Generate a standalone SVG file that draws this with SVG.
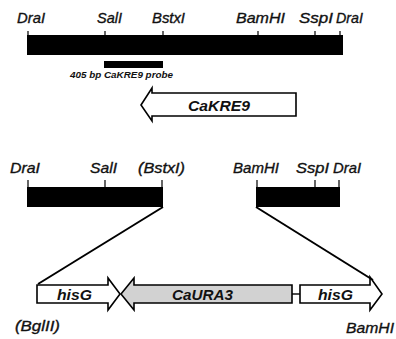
<svg xmlns="http://www.w3.org/2000/svg" width="396" height="339" viewBox="0 0 396 339">
<style>
.site{font-family:"Liberation Sans",Arial,sans-serif;font-style:italic;font-size:15px;fill:#111;stroke:#111;stroke-width:0.35}
.gene{font-family:"Liberation Sans",Arial,sans-serif;font-style:italic;font-weight:bold;font-size:15px;fill:#111}
.probe{font-family:"Liberation Sans",Arial,sans-serif;font-style:italic;font-weight:bold;font-size:9px;fill:#111}
.bar{fill:#000}
.tick{stroke:#000;stroke-width:1.2}
.box{fill:#fff;stroke:#000;stroke-width:1.6;stroke-linejoin:miter}
.grey{fill:#d2d2d2;stroke:#000;stroke-width:1.6}
.link{stroke:#000;stroke-width:2;fill:none}
</style>
<rect width="396" height="339" fill="#fff"/>

<g id="genomic-locus">
  <rect class="bar" x="27" y="35" width="316" height="20"/>
  <path class="tick" d="M28,31V35M105,31V35M163,31V35M258,31V35M315,31V35M340,31V35"/>
  <text class="site" x="17" y="23" textLength="28" lengthAdjust="spacingAndGlyphs">DraI</text>
  <text class="site" x="97" y="23" textLength="25" lengthAdjust="spacingAndGlyphs">SalI</text>
  <text class="site" x="152" y="23" textLength="33" lengthAdjust="spacingAndGlyphs">BstxI</text>
  <text class="site" x="236" y="23" textLength="49" lengthAdjust="spacingAndGlyphs">BamHI</text>
  <text class="site" x="299" y="23" textLength="34" lengthAdjust="spacingAndGlyphs">SspI</text>
  <text class="site" x="336" y="23" textLength="27" lengthAdjust="spacingAndGlyphs">DraI</text>
</g>

<g id="probe">
  <rect class="bar" x="104" y="61" width="59" height="7"/>
  <text class="probe" x="70" y="78" textLength="103" lengthAdjust="spacingAndGlyphs">405 bp CaKRE9 probe</text>
</g>

<g id="CaKRE9">
  <path class="box" d="M141,105 L152,88 L152,93 L296,93 L296,116 L152,116 L152,121 Z"/>
  <text class="gene" x="188" y="111" textLength="62" lengthAdjust="spacingAndGlyphs">CaKRE9</text>
</g>

<g id="left-arm">
  <rect class="bar" x="27" y="187" width="136" height="20"/>
  <path class="tick" d="M28,180V187M105,180V187M162,180V187"/>
  <text class="site" x="10" y="173" textLength="30" lengthAdjust="spacingAndGlyphs">DraI</text>
  <text class="site" x="90" y="173" textLength="27" lengthAdjust="spacingAndGlyphs">SalI</text>
  <text class="site" x="138" y="173" textLength="47" lengthAdjust="spacingAndGlyphs">(BstxI)</text>
</g>

<g id="right-arm">
  <rect class="bar" x="256" y="187" width="84" height="20"/>
  <path class="tick" d="M257,180V187M315,180V187M339,180V187"/>
  <text class="site" x="233" y="173" textLength="46" lengthAdjust="spacingAndGlyphs">BamHI</text>
  <text class="site" x="296" y="173" textLength="33" lengthAdjust="spacingAndGlyphs">SspI</text>
  <text class="site" x="333" y="173" textLength="28" lengthAdjust="spacingAndGlyphs">DraI</text>
</g>

<g id="connectors">
  <path class="link" d="M163,207 L38,284"/>
  <path class="link" d="M256,207 L373,280"/>
  <path class="link" style="stroke-width:1.4" d="M292,294 H300"/>
</g>

<g id="hisG-left">
  <path class="box" d="M37,285 L108,285 L108,278 L120,294 L108,310 L108,303 L37,303 Z"/>
  <text class="gene" x="57" y="300" textLength="35" lengthAdjust="spacingAndGlyphs">hisG</text>
</g>

<g id="CaURA3">
  <path class="grey" d="M121,294 L134,278 L134,285 L292,285 L292,303 L134,303 L134,310 Z"/>
  <text class="gene" x="172" y="300" textLength="61" lengthAdjust="spacingAndGlyphs">CaURA3</text>
</g>

<g id="hisG-right">
  <path class="box" d="M300,285 L370,285 L370,277 L382,294 L370,310 L370,303 L300,303 Z"/>
  <text class="gene" x="318" y="300" textLength="35" lengthAdjust="spacingAndGlyphs">hisG</text>
</g>

<g id="ends">
  <text class="site" x="15" y="331" textLength="45" lengthAdjust="spacingAndGlyphs">(BglII)</text>
  <text class="site" x="346" y="333" textLength="48" lengthAdjust="spacingAndGlyphs">BamHI</text>
</g>
</svg>
